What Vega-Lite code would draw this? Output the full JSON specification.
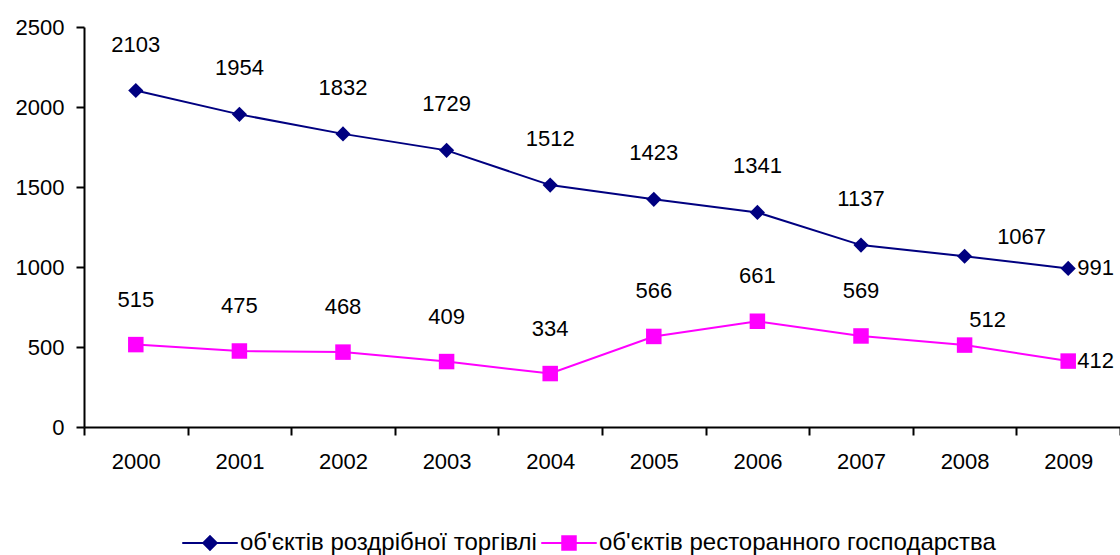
{
  "$schema": "https://vega.github.io/schema/vega-lite/v6.json",
  "width": 1036,
  "height": 400,
  "autosize": {"type": "none"},
  "padding": {"left": 84, "top": 27, "right": 0, "bottom": 128},
  "background": "white",
  "config": {
    "view": {"stroke": null},
    "font": "Liberation Sans"
  },
  "data": {
    "values": [
      {"year": "2000", "series": "об'єктів роздрібної торгівлі", "value": 2103},
      {"year": "2001", "series": "об'єктів роздрібної торгівлі", "value": 1954},
      {"year": "2002", "series": "об'єктів роздрібної торгівлі", "value": 1832},
      {"year": "2003", "series": "об'єктів роздрібної торгівлі", "value": 1729},
      {"year": "2004", "series": "об'єктів роздрібної торгівлі", "value": 1512},
      {"year": "2005", "series": "об'єктів роздрібної торгівлі", "value": 1423},
      {"year": "2006", "series": "об'єктів роздрібної торгівлі", "value": 1341},
      {"year": "2007", "series": "об'єктів роздрібної торгівлі", "value": 1137},
      {"year": "2008", "series": "об'єктів роздрібної торгівлі", "value": 1067},
      {"year": "2009", "series": "об'єктів роздрібної торгівлі", "value": 991},
      {"year": "2000", "series": "об'єктів ресторанного господарства", "value": 515},
      {"year": "2001", "series": "об'єктів ресторанного господарства", "value": 475},
      {"year": "2002", "series": "об'єктів ресторанного господарства", "value": 468},
      {"year": "2003", "series": "об'єктів ресторанного господарства", "value": 409},
      {"year": "2004", "series": "об'єктів ресторанного господарства", "value": 334},
      {"year": "2005", "series": "об'єктів ресторанного господарства", "value": 566},
      {"year": "2006", "series": "об'єктів ресторанного господарства", "value": 661},
      {"year": "2007", "series": "об'єктів ресторанного господарства", "value": 569},
      {"year": "2008", "series": "об'єктів ресторанного господарства", "value": 512},
      {"year": "2009", "series": "об'єктів ресторанного господарства", "value": 412}
    ]
  },
  "encoding": {
    "x": {
      "field": "year",
      "type": "ordinal",
      "scale": {"paddingInner": 0, "paddingOuter": 0},
      "axis": {
        "title": null,
        "labelAngle": 0,
        "tickBand": "extent",
        "grid": false,
        "domainColor": "black",
        "domainWidth": 2,
        "tickColor": "black",
        "tickWidth": 2,
        "tickSize": 8,
        "labelFont": "Liberation Sans",
        "labelFontSize": 22,
        "labelColor": "black",
        "labelPadding": 16
      }
    },
    "y": {
      "field": "value",
      "type": "quantitative",
      "scale": {"domain": [0, 2500], "nice": false},
      "axis": {
        "title": null,
        "values": [0, 500, 1000, 1500, 2000, 2500],
        "format": "d",
        "grid": false,
        "domainColor": "black",
        "domainWidth": 2,
        "tickColor": "black",
        "tickWidth": 2,
        "tickSize": 8,
        "labelFont": "Liberation Sans",
        "labelFontSize": 22,
        "labelColor": "black",
        "labelPadding": 12
      }
    }
  },
  "layer": [
    {
      "transform": [{"filter": "datum.series == \"об'єктів роздрібної торгівлі\""}],
      "mark": {"type": "line", "strokeWidth": 2, "color": "#000080"}
    },
    {
      "transform": [{"filter": "datum.series == \"об'єктів ресторанного господарства\""}],
      "mark": {"type": "line", "strokeWidth": 2, "color": "#FF00FF"}
    },
    {
      "transform": [{"filter": "datum.series == \"об'єктів роздрібної торгівлі\""}],
      "mark": {"type": "point", "shape": "diamond", "filled": true, "size": 230, "opacity": 1, "color": "#000080"}
    },
    {
      "transform": [{"filter": "datum.series == \"об'єктів ресторанного господарства\""}],
      "mark": {"type": "point", "shape": "square", "filled": true, "size": 240, "opacity": 1, "color": "#FF00FF"}
    },
    {
      "transform": [{"filter": "datum.series == \"об'єктів роздрібної торгівлі\" && datum.year != '2008' && datum.year != '2009'"}],
      "mark": {"type": "text", "dy": -46, "baseline": "middle", "align": "center", "font": "Liberation Sans", "fontSize": 22, "color": "black"},
      "encoding": {"text": {"field": "value", "type": "quantitative"}}
    },
    {
      "transform": [{"filter": "datum.series == \"об'єктів ресторанного господарства\" && datum.year != '2008' && datum.year != '2009'"}],
      "mark": {"type": "text", "dy": -45, "baseline": "middle", "align": "center", "font": "Liberation Sans", "fontSize": 22, "color": "black"},
      "encoding": {"text": {"field": "value", "type": "quantitative"}}
    },
    {
      "transform": [{"filter": "datum.series == \"об'єктів роздрібної торгівлі\" && datum.year == '2008'"}],
      "mark": {"type": "text", "dx": 57, "dy": -19, "baseline": "middle", "align": "center", "font": "Liberation Sans", "fontSize": 22, "color": "black"},
      "encoding": {"text": {"field": "value", "type": "quantitative"}}
    },
    {
      "transform": [{"filter": "datum.series == \"об'єктів ресторанного господарства\" && datum.year == '2008'"}],
      "mark": {"type": "text", "dx": 23, "dy": -25, "baseline": "middle", "align": "center", "font": "Liberation Sans", "fontSize": 22, "color": "black"},
      "encoding": {"text": {"field": "value", "type": "quantitative"}}
    },
    {
      "transform": [{"filter": "datum.year == '2009'"}],
      "mark": {"type": "text", "dx": 9, "dy": 0, "baseline": "middle", "align": "left", "font": "Liberation Sans", "fontSize": 22, "color": "black"},
      "encoding": {"text": {"field": "value", "type": "quantitative"}}
    },
    {
      "mark": {"type": "point", "filled": true, "opacity": 0, "strokeWidth": 2},
      "encoding": {
        "color": {
          "field": "series",
          "type": "nominal",
          "scale": {
            "domain": ["об'єктів роздрібної торгівлі", "об'єктів ресторанного господарства"],
            "range": ["#000080", "#FF00FF"]
          },
          "legend": {
            "title": null,
            "orient": "none",
            "direction": "horizontal",
            "legendX": 114,
            "legendY": 504,
            "labelFont": "Liberation Sans",
            "labelFontSize": 24,
            "labelColor": "black",
            "labelLimit": 0,
            "symbolSize": 225,
            "symbolOpacity": 1,
            "symbolStrokeWidth": 2,
            "labelOffset": 18,
            "columnPadding": 0,
            "encode": {"symbols": {"update": {"stroke": {"scale": "color", "field": "value"}, "strokeWidth": {"value": 2}, "opacity": {"value": 1}}}}
          }
        },
        "shape": {
          "field": "series",
          "type": "nominal",
          "scale": {
            "domain": ["об'єктів роздрібної торгівлі", "об'єктів ресторанного господарства"],
            "range": ["M-3.7,0H3.7M0,-0.9L0.9,0L0,0.9L-0.9,0Z", "M-3.7,0H3.7M-0.9,-0.9H0.9V0.9H-0.9Z"]
          },
          "legend": {
            "title": null,
            "orient": "none",
            "direction": "horizontal",
            "legendX": 114,
            "legendY": 504,
            "labelFont": "Liberation Sans",
            "labelFontSize": 24,
            "labelColor": "black",
            "labelLimit": 0,
            "symbolSize": 225,
            "symbolOpacity": 1,
            "symbolStrokeWidth": 2,
            "labelOffset": 18,
            "columnPadding": 0,
            "encode": {"symbols": {"update": {"stroke": {"scale": "color", "field": "value"}, "strokeWidth": {"value": 2}, "opacity": {"value": 1}}}}
          }
        }
      }
    }
  ]
}
